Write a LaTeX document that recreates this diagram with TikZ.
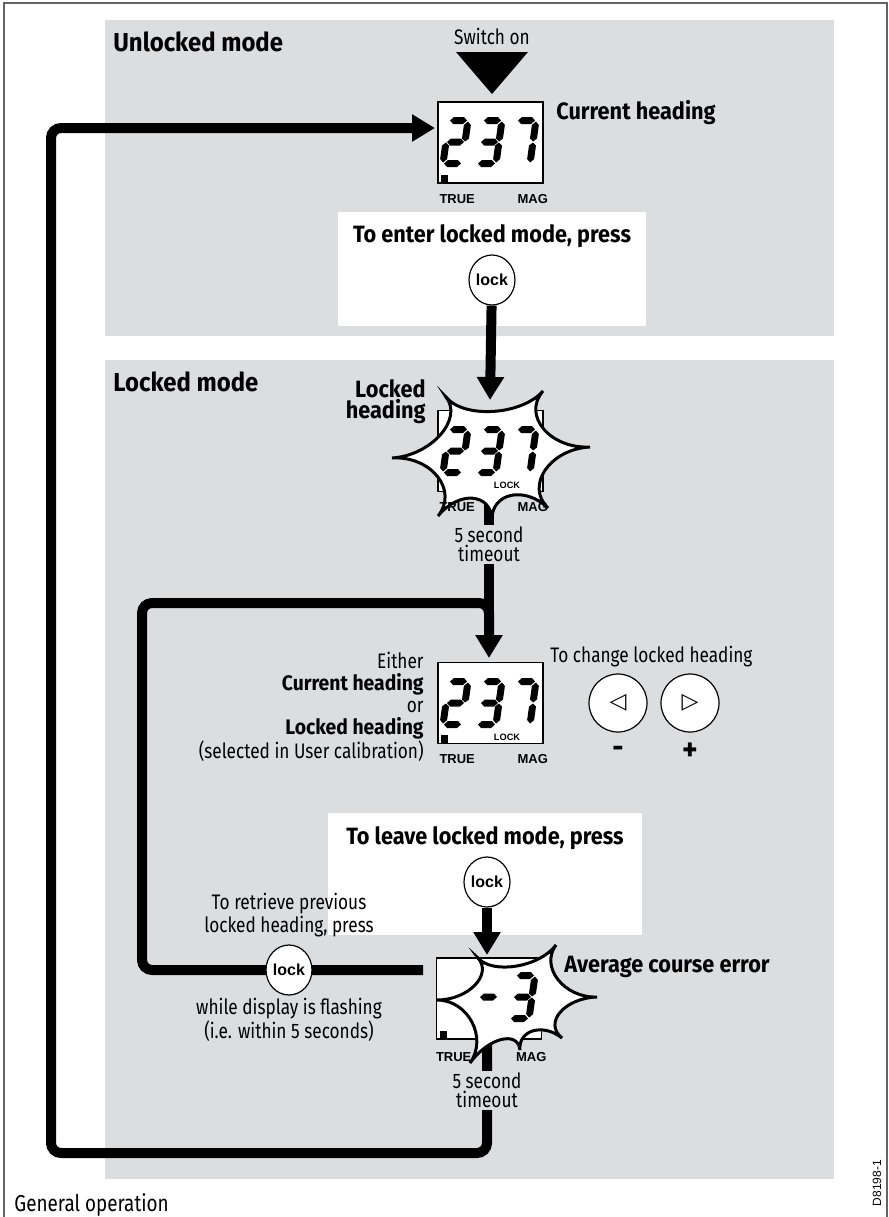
\documentclass[tikz,border=0pt]{standalone}
\usepackage{fontspec}
\setmainfont{Fira Sans}[FakeStretch=0.82]
\newfontfamily\heavy{Fira Sans}[FakeStretch=0.92]
\newfontfamily\arial{Liberation Sans}
\newfontfamily\symfont{DejaVu Sans}
\usetikzlibrary{positioning, arrows.meta, shapes.geometric, calc}

\definecolor{panelgray}{RGB}{220,221,223}
\definecolor{framegray}{RGB}{100,100,100}

\tikzset{
  panel/.style={fill=panelgray},
  mode/.style={font=\heavy\bfseries\fontsize{13}{14}\selectfont, anchor=west, inner sep=0pt},
  bigbold/.style={font=\heavy\bfseries\fontsize{11.8}{10.5}\selectfont, inner sep=0pt},
  note/.style={font=\fontsize{10.5}{10}\selectfont, align=center, inner sep=1pt},
  lcd/.style={draw, line width=0.8pt, fill=white, minimum width=52.5pt, minimum height=40.5pt, inner sep=0pt},
  tag/.style={font=\arial\bfseries\fontsize{6.5}{7}\selectfont, inner sep=0pt},
  locktag/.style={font=\arial\bfseries\fontsize{4.6}{5}\selectfont, inner sep=0pt},
  key/.style={draw, ellipse, fill=white, line width=0.6pt, minimum width=23pt, minimum height=25pt, inner sep=0pt, font=\arial\bfseries\fontsize{8}{9}\selectfont},
  arrowkey/.style={draw, circle, fill=white, line width=0.6pt, minimum size=29pt, inner sep=0pt, font=\symfont\fontsize{11}{11}\selectfont},
  flow/.style={line width=5pt, rounded corners=5pt},
  flowarrow/.style={flow, -{Triangle[width=13pt,length=11.5pt]}},
  burst/.style={draw, fill=white, line width=1.5pt},
}

% one slanted seven segment digit: x, y of top left, segments (0=a ... 6=g)
\newcommand\lcddigit[3]{%
  \begin{scope}[shift={(#1,#2)}, xslant=0.14]
    \foreach \s in {#3} {
      \ifcase\s\relax
        \fill (4.5,3.5) -- (8,0) -- (18,0) -- (21.5,3.5) -- (18,7) -- (8,7) -- cycle;
      \or \fill (22.5,4.5) -- (26,8) -- (26,21.5) -- (22.5,24.5) -- (19,21.5) -- (19,8) -- cycle;
      \or \fill (22.5,25.5) -- (26,28.5) -- (26,42) -- (22.5,45.5) -- (19,42) -- (19,28.5) -- cycle;
      \or \fill (4.5,46.5) -- (8,43) -- (18,43) -- (21.5,46.5) -- (18,50) -- (8,50) -- cycle;
      \or \fill (3.5,25.5) -- (7,28.5) -- (7,42) -- (3.5,45.5) -- (0,42) -- (0,28.5) -- cycle;
      \or \fill (3.5,4.5) -- (7,8) -- (7,21.5) -- (3.5,24.5) -- (0,21.5) -- (0,8) -- cycle;
      \or \fill (4.5,25) -- (8,21.5) -- (18,21.5) -- (21.5,25) -- (18,28.5) -- (8,28.5) -- cycle;
      \fi
    }
  \end{scope}}

\begin{document}
\begin{tikzpicture}[x=0.5pt, y=-0.5pt]
\useasboundingbox (0,0) rectangle (889,1217);

% frame and panels
\draw[framegray, line width=1pt] (4,1217) -- (4,3) -- (887,3) -- (887,1217);
\fill[panel] (105,20) rectangle (834,336);
\fill[panel] (105,360) rectangle (834,1179);
\fill[white] (338,212) rectangle (646,326);
\fill[white] (328,813) rectangle (642,935);

\node[mode] (unlocked) at (113,42) {Unlocked mode};
\node[mode] (locked) at (113,382) {Locked mode};

% loops behind everything
\coordinate (j1) at (489,603);
\draw[flowarrow] (487,1045) -- (487,1153) -- (51,1153) -- (51,128) -- (435,128);
\draw[flow] (423,970) -- (142,970) -- (142,603) -- (j1) -- (489,635);
\draw[flowarrow] (489,500) -- (489,658);

% switch on
\node[note] (switch) at (492,36) {Switch on};
\fill (456,52) -- (528,52) -- (492,94) -- cycle;

% current heading
\node[lcd] (d1) at (490.5,142.5) {};
\fill ([xshift=2pt]d1.south west) rectangle ++(7,-9);
\lcddigit{446}{117}{0,1,6,4,3}
\lcddigit{480}{117}{0,1,6,2,3}
\lcddigit{514}{117}{0,1,2}
\node[tag] at ([shift={(20,15)}]d1.south west) {TRUE};
\node[tag] at ([shift={(-11,15)}]d1.south east) {MAG};
\node[bigbold, anchor=west] (cur) at (556,113) {Current heading};

\node[bigbold] (enter) at (492,236) {To enter locked mode, press};
\node[key] (lock1) at (492,280) {lock};

% locked heading, flashing
\node[lcd] (d2) at (490.5,451) {};
\coordinate (s2c) at (490,452);
\coordinate (s2a) at (392,458);
\coordinate (s2b) at (446,397);
\coordinate (s2d) at (543,391);
\coordinate (s2e) at (590,447);
\coordinate (s2f) at (548,508);
\coordinate (s2g) at (492,520);
\coordinate (s2h) at (438,516);
\draw[burst] (s2a) \foreach \p/\q in {s2a/s2b, s2b/s2d, s2d/s2e, s2e/s2f, s2f/s2g, s2g/s2h, s2h/s2a}
  { .. controls ($(\p)!0.4!(s2c)$) and ($(\q)!0.4!(s2c)$) .. (\q) } -- cycle;
\lcddigit{446}{426}{0,1,6,4,3}
\lcddigit{480}{426}{0,1,6,2,3}
\lcddigit{514}{426}{0,1,2}
\node[locktag] at (507,485) {LOCK};
\node[tag] at ([shift={(20,15)}]d2.south west) {TRUE};
\node[tag] at ([shift={(-11,15)}]d2.south east) {MAG};
\node[bigbold, anchor=east, align=right] (lh) at (426,402) {Locked\\heading};
\coordinate (in2) at (490,400);
\draw[flowarrow] (lock1) -- (in2);
\node[note, fill=panelgray, font=\fontsize{10.5}{9.5}\selectfont] (to1) at (489,544) {5 second\\timeout};

% either display
\node[lcd] (d3) at (490.5,703) {};
\fill ([xshift=2pt]d3.south west) rectangle ++(7,-9);
\lcddigit{446}{678}{0,1,6,4,3}
\lcddigit{480}{678}{0,1,6,2,3}
\lcddigit{514}{678}{0,1,2}
\node[locktag] at (507,737) {LOCK};
\node[tag] at ([shift={(20,15)}]d3.south west) {TRUE};
\node[tag] at ([shift={(-11,15)}]d3.south east) {MAG};
\node[note, anchor=east, align=right, font=\fontsize{10.5}{10.85}\selectfont] (either) at (426,707)
  {Either\\{\heavy\bfseries Current heading}\\or\\{\heavy\bfseries Locked heading}\\(selected in User calibration)};

% change locked heading
\node[note, anchor=west] (change) at (548,657) {To change locked heading};
\node[arrowkey] (minus) at (618,703) {◁};
\node[arrowkey] (plus) at (690,703) {▷};
\node[font=\heavy\bfseries\fontsize{15}{15}\selectfont] at (618,752) {-};
\node[font=\heavy\bfseries\fontsize{16}{16}\selectfont] at (690,752) {+};

% leave locked mode
\node[bigbold] (leave) at (485,838) {To leave locked mode, press};
\node[key] (lock3) at (487,882) {lock};

% average course error
\node[lcd] (d4) at (489,998.5) {};
\fill ([xshift=2pt]d4.south west) rectangle ++(7,-9);
\coordinate (s4c) at (515,1000);
\coordinate (s4a) at (437,1000);
\coordinate (s4b) at (478,958);
\coordinate (s4d) at (556,945);
\coordinate (s4e) at (597,997);
\coordinate (s4f) at (562,1038);
\coordinate (s4g) at (520,1050);
\coordinate (s4h) at (470,1063);
\draw[burst] (s4a) \foreach \p/\q in {s4a/s4b, s4b/s4d, s4d/s4e, s4e/s4f, s4f/s4g, s4g/s4h, s4h/s4a}
  { .. controls ($(\p)!0.4!(s4c)$) and ($(\q)!0.4!(s4c)$) .. (\q) } -- cycle;
\lcddigit{479}{972}{6}
\lcddigit{513}{972}{0,1,6,2,3}
\node[tag] at ([shift={(18,17)}]d4.south west) {TRUE};
\node[tag] at ([shift={(-11,17)}]d4.south east) {MAG};
\node[bigbold, anchor=west] (ace) at (564,967) {Average course error};
\coordinate (in4) at (487,955);
\draw[flowarrow] (lock3) -- (in4);
\node[note, fill=panelgray, font=\fontsize{10.5}{9.5}\selectfont] (to2) at (487,1090) {5 second\\timeout};

% retrieve previous heading
\node[key] (lock2) at (289,970) {lock};
\node[note] (retr) at (289,915) {To retrieve previous\\locked heading, press};
\node[note] (flash) at (289,1020) {while display is flashing\\(i.e. within 5 seconds)};

\node[note, anchor=west, font=\fontsize{11.5}{12}\selectfont] (cap) at (12,1205) {General operation};
\node[rotate=90, font=\arial\fontsize{6}{7}\selectfont] (ref) at (877,1183) {D8198-1};
\end{tikzpicture}
\end{document}
